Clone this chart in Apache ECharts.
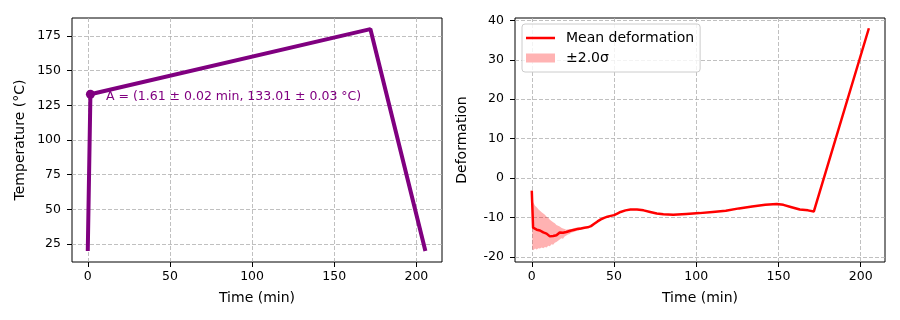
<!DOCTYPE html>
<html>
<head>
<meta charset="utf-8">
<script src="https://cdn.jsdelivr.net/npm/echarts@6/dist/echarts.min.js"></script>
<style>
html, body { margin: 0; padding: 0; background: #fff; }
#chart { width: 900px; height: 320px; }
</style>
</head>
<body>
<div id="chart"></div>
<script>
// left panel: temperature profile
const tempTime = [0, 1.61, 172, 205.5]
const tempValue = [20, 133.01, 180, 20]
const pointA = [1.61, 133.01]
const pointALabel = 'A = (1.61 ± 0.02 min, 133.01 ± 0.03 °C)'

// right panel: mean deformation and ±2σ band
const defTime = [0, 0.8, 2, 3, 4, 5, 6, 7, 8, 9, 10, 11, 12, 13, 14, 15, 16, 17, 18, 19,
  20, 21, 22, 24, 26, 28, 30, 32, 34, 36, 38, 40, 42, 44, 46, 48, 50, 52, 54, 57,
  60, 64, 68, 72, 76, 80, 86, 94, 102, 110, 118, 126, 134, 142, 149, 153, 158, 163, 168, 171.5, 205]
const defMean = [-3.2, -12.6, -13.0, -13.1, -13.4, -13.3, -13.7, -13.8, -14.0, -14.1,
  -14.6, -14.8, -14.9, -14.7, -14.8, -14.5, -14.2, -13.8, -14.1, -13.9,
  -13.6, -13.7, -13.4, -13.3, -13.1, -12.9, -12.8, -12.6, -12.5, -12.2,
  -11.6, -11.0, -10.5, -10.1, -9.8, -9.6, -9.4, -9.0, -8.6, -8.2,
  -8.0, -8.0, -8.2, -8.6, -9.0, -9.2, -9.3, -9.1, -8.9, -8.6,
  -8.3, -7.7, -7.2, -6.8, -6.6, -6.8, -7.4, -8.0, -8.2, -8.5, 38]
const bandTime = [0.3, 1, 2, 3, 4, 5, 6, 7, 8, 9, 10, 11, 12, 13, 14, 15, 16, 17, 18, 19,
  20, 21, 22, 23, 24, 26, 28, 30]
const bandLow = [-18.0, -18.3, -17.9, -18.1, -17.8, -17.9, -17.6, -17.8, -17.5, -17.6,
  -17.2, -17.3, -16.8, -16.9, -16.4, -16.2, -15.9, -15.6, -15.3, -15.4,
  -14.8, -14.6, -14.3, -14.2, -13.9, -13.6, -13.3, -13.1]
const bandHigh = [-6.0, -6.3, -7.0, -7.4, -7.9, -8.3, -8.7, -9.0, -9.3, -9.8,
  -10.1, -10.6, -10.9, -11.2, -11.5, -11.9, -12.1, -12.3, -12.6, -12.8,
  -12.9, -13.1, -13.0, -12.9, -12.9, -12.7, -12.5, -12.4]

// tick labels
const timeTicks = [0, 50, 100, 150, 200]
const tempTicks = [25, 50, 75, 100, 125, 150, 175]
const defTicks = [-20, -10, 0, 10, 20, 30, 40]

const FONT = 'DejaVu Sans'
const zip = (xs, ys) => xs.map((x, i) => [x, ys[i]])

function axis(gridIndex, min, max, ticks, name, nameGap, margin) {
  return {
    type: 'value',
    gridIndex,
    min,
    max,
    name,
    nameLocation: 'middle',
    nameGap,
    nameTextStyle: { fontFamily: FONT, fontSize: 14, color: '#000' },
    axisLine: { show: false, onZero: false },
    axisTick: { show: true, length: 5, customValues: ticks, lineStyle: { color: '#000', width: 1 } },
    axisLabel: { customValues: ticks, fontFamily: FONT, fontSize: 12.5, color: '#000', margin },
    splitLine: { show: true, lineStyle: { color: '#b0b0b0', width: 0.8, type: [4, 2] } }
  }
}

// band polygon: upper edge forward, lower edge back
function renderBand(params, api) {
  if (params.dataIndex !== 0) return null
  const upper = bandTime.map((t, i) => api.coord([t, bandHigh[i]]))
  const lower = bandTime.map((t, i) => api.coord([t, bandLow[i]])).reverse()
  return {
    type: 'polygon',
    shape: { points: upper.concat(lower) },
    style: { fill: 'rgba(255,0,0,0.3)' }
  }
}

const chart = echarts.init(document.getElementById('chart'))

const option = {
  animation: false,
  backgroundColor: '#fff',
  grid: [
    { left: 72, top: 18, width: 370, height: 244, show: true, borderColor: '#000', borderWidth: 1 },
    { left: 515, top: 18, width: 370, height: 244, show: true, borderColor: '#000', borderWidth: 1 }
  ],
  xAxis: [
    axis(0, -9.6, 215.6, timeTicks, 'Time (min)', 29, 8),
    axis(1, -10.2, 214.8, timeTicks, 'Time (min)', 29, 8)
  ],
  yAxis: [
    axis(0, 12, 188, tempTicks, 'Temperature (°C)', 45, 11),
    axis(1, -21.3, 40.6, defTicks, 'Deformation', 46, 11)
  ],
  legend: {
    left: 522,
    top: 24,
    orient: 'vertical',
    symbolKeepAspect: true,
    data: [
      { name: 'Mean deformation', icon: 'path://M0,0 L30,0 L30,2.6 L0,2.6 Z', itemStyle: { color: '#ff0000' } },
      { name: '±2.0σ', icon: 'rect', itemStyle: { color: '#ffb3b3' } }
    ],
    itemWidth: 29,
    itemHeight: 9,
    itemGap: 6,
    padding: [7, 6, 7, 4],
    backgroundColor: 'rgba(255,255,255,0.8)',
    borderColor: '#ccc',
    borderWidth: 1,
    borderRadius: 3,
    textStyle: { fontFamily: FONT, fontSize: 14, color: '#000', padding: [0, 0, 0, 6] }
  },
  series: [
    {
      name: 'Temperature',
      type: 'line',
      xAxisIndex: 0,
      yAxisIndex: 0,
      data: zip(tempTime, tempValue),
      symbol: 'none',
      lineStyle: { color: '#800080', width: 4 },
      itemStyle: { color: '#800080' }
    },
    {
      name: 'A',
      type: 'scatter',
      xAxisIndex: 0,
      yAxisIndex: 0,
      data: [pointA],
      symbolSize: 9,
      itemStyle: { color: '#800080', opacity: 1 },
      label: {
        show: true,
        position: 'right',
        distance: 11,
        offset: [0, 3],
        formatter: pointALabel,
        fontFamily: FONT,
        fontSize: 12.5,
        color: '#800080',
        opacity: 1
      }
    },
    {
      name: '±2.0σ',
      type: 'custom',
      xAxisIndex: 1,
      yAxisIndex: 1,
      data: bandTime.map((t, i) => [t, bandLow[i], bandHigh[i]]),
      encode: { x: 0, y: [1, 2] },
      renderItem: renderBand,
      itemStyle: { color: '#ffb3b3' },
      clip: true
    },
    {
      name: 'Mean deformation',
      type: 'line',
      xAxisIndex: 1,
      yAxisIndex: 1,
      data: zip(defTime, defMean),
      symbol: 'none',
      lineStyle: { color: '#ff0000', width: 2.5 },
      itemStyle: { color: '#ff0000' }
    }
  ]
}

chart.setOption(option)
</script>
</body>
</html>
